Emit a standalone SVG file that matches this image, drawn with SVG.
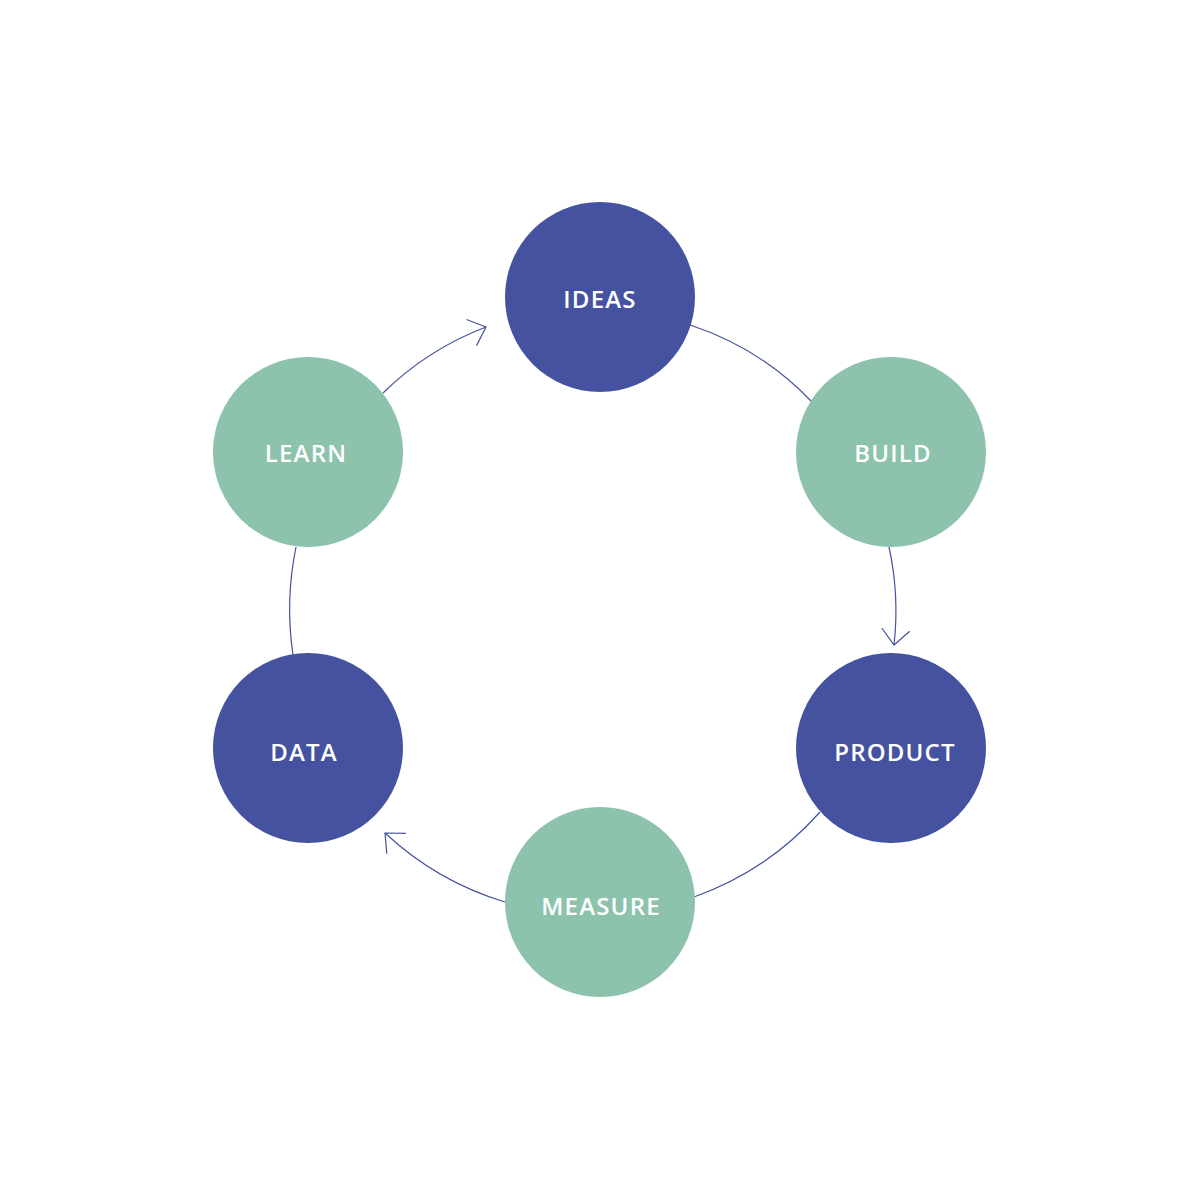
<svg xmlns="http://www.w3.org/2000/svg" width="1200" height="1200" viewBox="0 0 1200 1200">
<style>
.dark{fill:#4552a0}
.green{fill:#8dc3ac}
.lbl{font-family:"Open Sans","Noto Sans",sans-serif;font-weight:600;font-size:24px;fill:#ffffff;text-anchor:middle;letter-spacing:1.2px}
.conn{fill:none;stroke:#4552a0;stroke-width:1.2}
</style>
<defs>
<marker id="arr" viewBox="0 0 20 30" refX="16" refY="15" markerWidth="20" markerHeight="30" markerUnits="userSpaceOnUse" orient="auto">
<path d="M0.5,1 L16,15 L0.5,29" fill="none" stroke="#4552a0" stroke-width="1.2"/>
</marker>
</defs>
<rect width="1200" height="1200" fill="#ffffff"/>
<g id="connectors">
<path class="conn" d="M690,325 A295,295 0 0 1 812,402"/>
<path class="conn" d="M889,547 A300,300 0 0 1 894,645" marker-end="url(#arr)"/>
<path class="conn" d="M820,812 A305,305 0 0 1 694,897"/>
<path class="conn" d="M505,902 A305,305 0 0 1 385,833" marker-end="url(#arr)"/>
<path class="conn" d="M293,655 A310,310 0 0 1 296,547"/>
<path class="conn" d="M383,393 A300,300 0 0 1 486,327" marker-end="url(#arr)"/>
</g>
<g id="ideas"><circle class="dark" cx="600" cy="297" r="95"/><text class="lbl" x="600" y="308">IDEAS</text></g>
<g id="build"><circle class="green" cx="891" cy="452" r="95"/><text class="lbl" x="893" y="462">BUILD</text></g>
<g id="product"><circle class="dark" cx="891" cy="748" r="95"/><text class="lbl" x="895" y="761">PRODUCT</text></g>
<g id="measure"><circle class="green" cx="600" cy="902" r="95"/><text class="lbl" x="601" y="915">MEASURE</text></g>
<g id="data"><circle class="dark" cx="308" cy="748" r="95"/><text class="lbl" x="304" y="761">DATA</text></g>
<g id="learn"><circle class="green" cx="308" cy="452" r="95"/><text class="lbl" x="306" y="462">LEARN</text></g>
</svg>
